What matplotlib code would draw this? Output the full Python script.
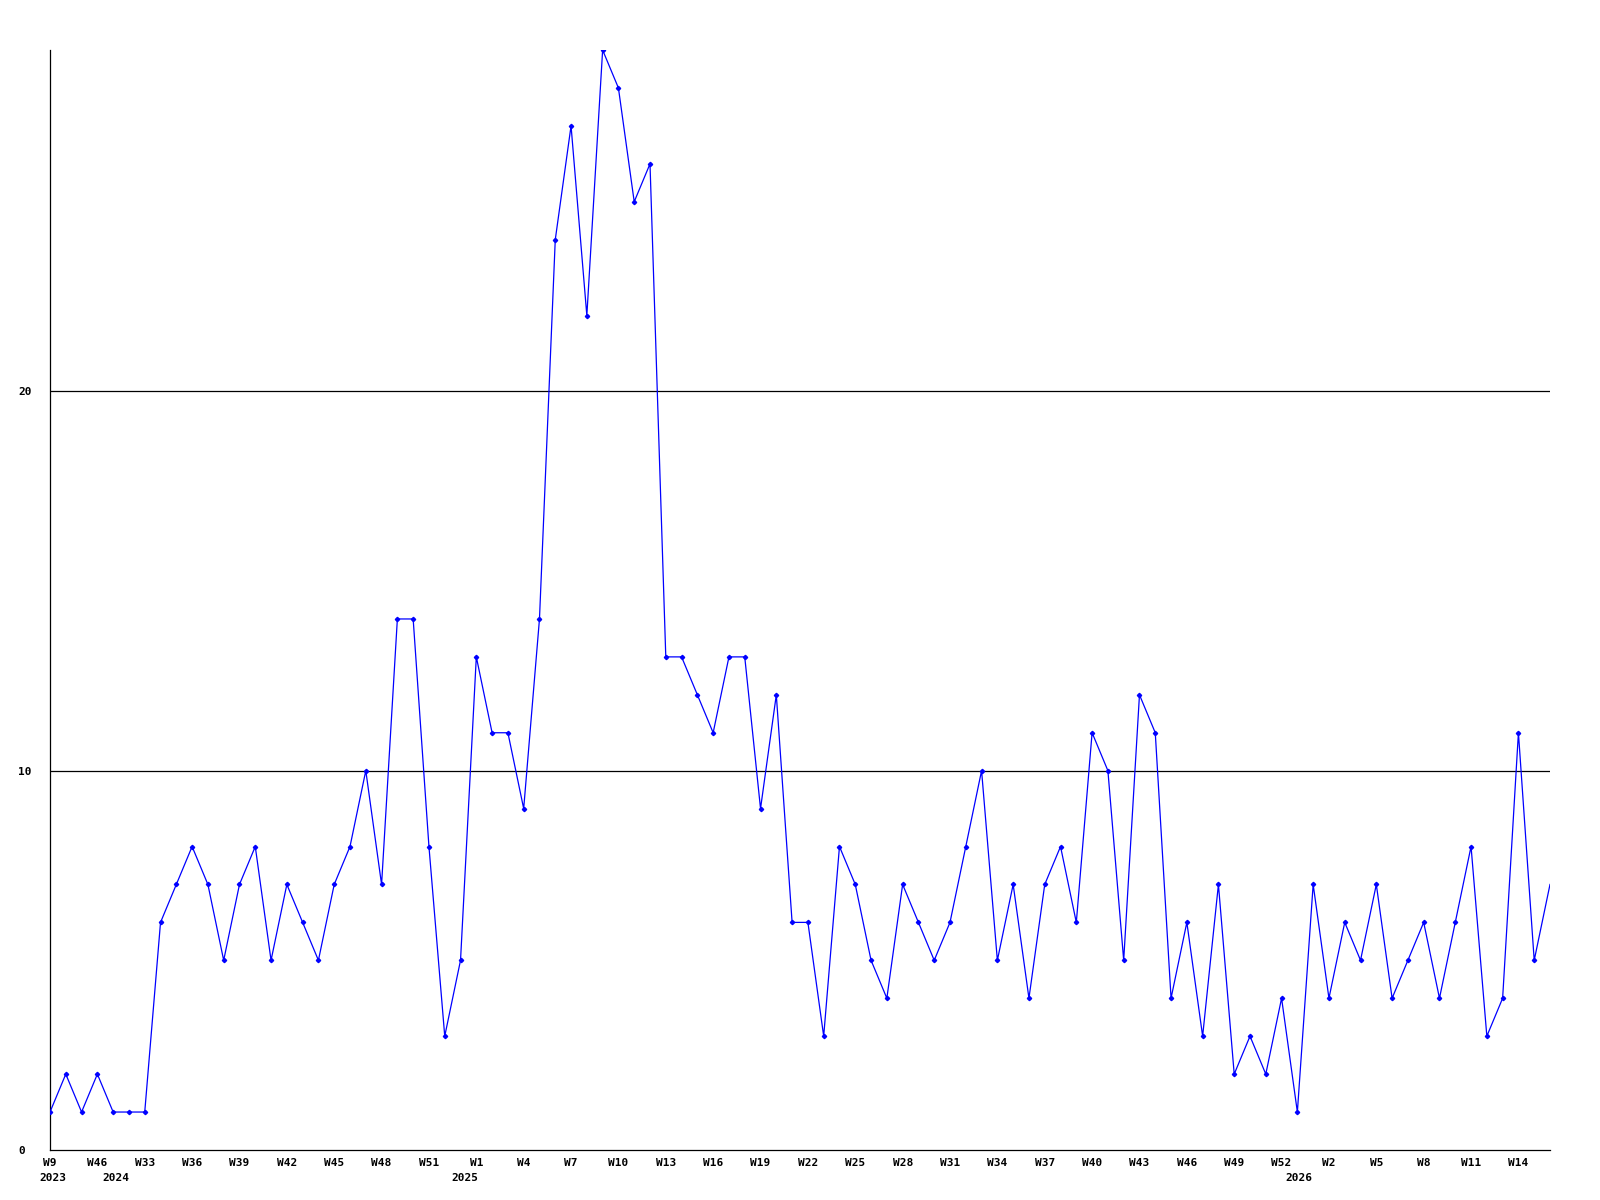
"""Weekly counts, line with small markers"""

import matplotlib.pyplot as plt
import numpy as np

values = [1, 2, 1, 2, 1, 1, 1, 6, 7, 8, 7, 5, 7, 8, 5, 7, 6, 5, 7, 8,
          10, 7, 14, 14, 8, 3, 5, 13, 11, 11, 9, 14, 24, 27, 22, 29, 28, 25, 26, 13,
          13, 12, 11, 13, 13, 9, 12, 6, 6, 3, 8, 7, 5, 4, 7, 6, 5, 6, 8, 10,
          5, 7, 4, 7, 8, 6, 11, 10, 5, 12, 11, 4, 6, 3, 7, 2, 3, 2, 4, 1,
          7, 4, 6, 5, 7, 4, 5, 6, 4, 6, 8, 3, 4, 11, 5, 7]
week_labels = ["W9", "W46", "W33", "W36", "W39", "W42", "W45", "W48", "W51", "W1",
               "W4", "W7", "W10", "W13", "W16", "W19", "W22", "W25", "W28", "W31",
               "W34", "W37", "W40", "W43", "W46", "W49", "W52", "W2", "W5", "W8",
               "W11", "W14"]
years = ["2023", "2024", "2025", "2026"]
year_pos = [0.2, 4.2, 26.3, 79.1]

x = np.arange(len(values))

fig = plt.figure(figsize=(16, 12), dpi=100)
ax = fig.add_axes([0.03125, 0.0417, 0.9375, 0.9166])

for g in (10, 20):
    ax.axhline(g, color="black", lw=0.9, zorder=1)

ax.plot(x, values, color="#0000ff", lw=0.9, marker="D", markersize=2.2,
        markevery=slice(0, len(values) - 1), zorder=3)

ax.set_xlim(0, len(values) - 1)
ax.set_ylim(0, 29)

for s in ("top", "right"):
    ax.spines[s].set_visible(False)
for s in ("left", "bottom"):
    ax.spines[s].set_linewidth(0.9)

font = dict(family="DejaVu Sans Mono", weight="bold", size=8)

ax.set_xticks(x[::3])
ax.set_xticklabels(week_labels, **font)
ax.set_yticks([0, 10, 20])
ax.set_yticklabels(["0", "10", "20"], **font)
for lbl in ax.get_yticklabels():
    lbl.set_horizontalalignment("left")
ax.tick_params(axis="y", length=0, pad=23)
ax.tick_params(axis="x", length=0, pad=6)

for yr, pos in zip(years, year_pos):
    ax.text(pos, -0.6, yr, ha="center", va="top", **font,
            transform=ax.transData)

fig.savefig("out.png", dpi=100)
